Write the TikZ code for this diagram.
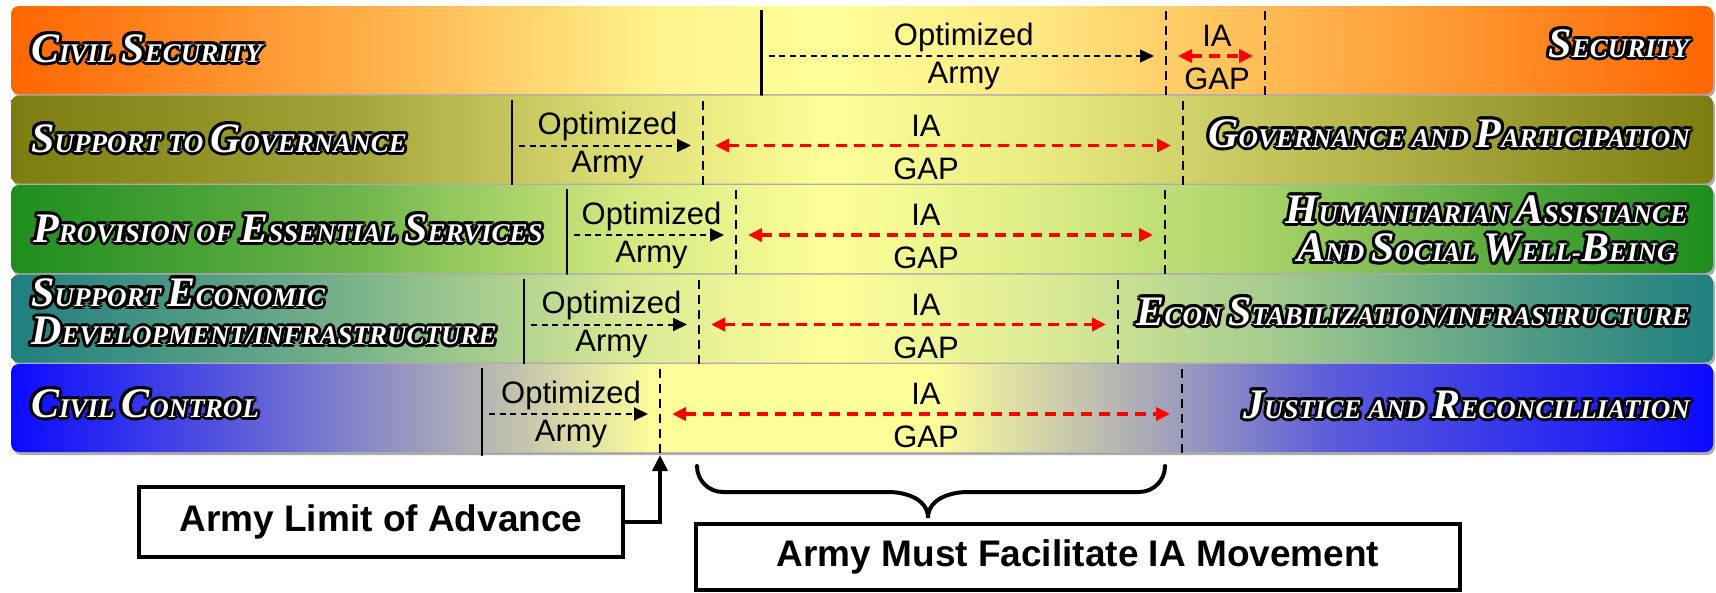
\documentclass[tikz,border=0pt]{standalone}
\usepackage{fontspec}
\setmainfont{Liberation Sans}
\setsansfont{Liberation Sans}
\newfontfamily\bandfont{Liberation Serif}
\usetikzlibrary{arrows.meta, calc}

\definecolor{bYel}{HTML}{FFFF99}
\definecolor{bOr}{HTML}{FF6600}
\definecolor{bOl}{HTML}{7C7C10}
\definecolor{bGr}{HTML}{1E8C1E}
\definecolor{bTe}{HTML}{1F7F80}
\definecolor{bBl}{HTML}{0A0AFF}
\definecolor{bGy}{HTML}{A8A8B8}

\pgfdeclarehorizontalshading{civsec}{100bp}{color(0bp)=(bOr); color(25bp)=(bOr); color(35bp)=(bOr!55!bYel); color(44bp)=(bOr!8!bYel); color(49bp)=(bYel); color(55bp)=(bOr!15!bYel); color(62bp)=(bOr!45!bYel); color(75bp)=(bOr); color(100bp)=(bOr)}
\pgfdeclarehorizontalshading{govern}{100bp}{color(0bp)=(bOl); color(25bp)=(bOl); color(35bp)=(bOl!70!bYel); color(43bp)=(bOl!25!bYel); color(49bp)=(bYel); color(55bp)=(bOl!15!bYel); color(62bp)=(bOl!45!bYel); color(70bp)=(bOl!80!bYel); color(75bp)=(bOl); color(100bp)=(bOl)}
\pgfdeclarehorizontalshading{essent}{100bp}{color(0bp)=(bGr); color(25bp)=(bGr); color(35bp)=(bGr!65!bYel); color(43bp)=(bGr!20!bYel); color(49bp)=(bYel); color(55bp)=(bGr!15!bYel); color(62bp)=(bGr!40!bYel); color(70bp)=(bGr!80!bYel); color(75bp)=(bGr); color(100bp)=(bGr)}
\pgfdeclarehorizontalshading{econ}{100bp}{color(0bp)=(bTe); color(25bp)=(bTe); color(35bp)=(bTe!60!bYel); color(43bp)=(bTe!18!bYel); color(49bp)=(bYel); color(55bp)=(bTe!15!bYel); color(62bp)=(bTe!40!bYel); color(70bp)=(bTe!80!bYel); color(75bp)=(bTe); color(100bp)=(bTe)}
\pgfdeclarehorizontalshading{civcon}{100bp}{color(0bp)=(bBl); color(25bp)=(bBl); color(31bp)=(bBl!55!bGy); color(38bp)=(bGy); color(44bp)=(bYel); color(52bp)=(bYel); color(58.5bp)=(bGy); color(64bp)=(bBl!50!bGy); color(75bp)=(bBl); color(100bp)=(bBl)}

\newcommand{\Kc}[1]{{\fontsize{42pt}{38.5pt}\selectfont #1}}
\newcommand{\bandlabel}[4]{%
	\foreach \a in {0,30,...,330}
		\node[bandlbl, text=black, #3] (#1-\a) at ($(#2)+(\a:3)$) {#4};
	\node[bandlbl, text=white, #3] (#1) at (#2) {#4};
}

\tikzset{
	bandlbl/.style={font=\bandfont\bfseries\itshape\fontsize{27pt}{38.5pt}\selectfont, inner sep=0pt},
	midtxt/.style={font=\fontsize{31pt}{31pt}\selectfont, inner sep=0pt},
	armyline/.style={line width=2.5pt},
	gapline/.style={line width=2.5pt, dash pattern=on 9pt off 6pt},
	armyarrow/.style={line width=2pt, dash pattern=on 6pt off 4.5pt, -{Triangle[length=14pt,width=13pt]}},
	gaparrow/.style={red, line width=3.5pt, dash pattern=on 11pt off 7pt, {Triangle[length=14pt,width=13pt]}-{Triangle[length=14pt,width=13pt]}},
	notebox/.style={draw, fill=white, line width=3.5pt, inner sep=0pt, font=\bfseries\fontsize{37pt}{37pt}\selectfont},
	advarrow/.style={line width=4pt, -{Triangle[length=16pt,width=15pt]}},
	bracestyle/.style={line width=4pt, line cap=round}
}

\begin{document}
\begin{tikzpicture}[x=1pt, y=-1pt, font=\sffamily]
	\useasboundingbox (0,0) rectangle (1716,592);

	\foreach \n/\sh/\sol/\dl/\dr/\ia in {0/civsec/761.5/1166/1265/1217, 1/govern/512/703/1183/926, 2/essent/567/736/1165/926, 3/econ/524/699/1118/926, 4/civcon/482/660/1182/926}{
		\pgfmathsetmacro\t{6+89.5*\n}
		\pgfmathsetmacro\b{\t+88}
		\pgfmathsetmacro\mx{(\sol+\dl)/2}
		\fill[gray!65, rounded corners=8pt]	(13,\t+3) rectangle (1715,\b+3);
		\shade[shading=\sh, rounded corners=8pt]	(11,\t) rectangle (1713,\b);

		\coordinate (sol\n-t) at (\sol,\t+4);
		\coordinate (sol\n-b) at (\sol,\t+92);
		\coordinate (dl\n-t) at (\dl,\t+5);
		\coordinate (dl\n-b) at (\dl,\t+91);
		\coordinate (dr\n-t) at (\dr,\t+5);
		\coordinate (dr\n-b) at (\dr,\t+91);
		\coordinate (aw\n) at (\sol+7,\t+50);
		\coordinate (ae\n) at (\dl-12,\t+50);
		\coordinate (rw\n) at (\dl+12,\t+50);
		\coordinate (re\n) at (\dr-12,\t+50);

		\draw[armyline]	(sol\n-t) -- (sol\n-b);
		\draw[gapline]	(dl\n-t) -- (dl\n-b);
		\draw[gapline]	(dr\n-t) -- (dr\n-b);
		\draw[armyarrow]	(aw\n) -- (ae\n);
		\draw[gaparrow]	(rw\n) -- (re\n);

		\node[midtxt] (opt\n) at (\mx,\t+31) {Optimized};
		\node[midtxt] (army\n) at (\mx,\t+70) {Army};
		\node[midtxt] (ia\n) at (\ia,\t+30) {IA};
		\node[midtxt] (gap\n) at (\ia,\t+73) {GAP};
	}

	\bandlabel{civsec}{31,62}{anchor=base west}{\Kc{C}IVIL \Kc{S}ECURITY}
	\bandlabel{secur}{1689,57}{anchor=base east}{\Kc{S}ECURITY}
	\bandlabel{supgov}{31,152}{anchor=base west}{\Kc{S}UPPORT TO \Kc{G}OVERNANCE}
	\bandlabel{govpar}{1690,147}{anchor=base east}{\Kc{G}OVERNANCE AND \Kc{P}ARTICIPATION}
	\bandlabel{provis}{33,242}{anchor=base west}{\Kc{P}ROVISION OF \Kc{E}SSENTIAL \Kc{S}ERVICES}
	\bandlabel{human}{1487,229}{anchor=center, align=center}{\Kc{H}UMANITARIAN \Kc{A}SSISTANCE\\\Kc{A}ND \Kc{S}OCIAL \Kc{W}ELL-\Kc{B}EING}
	\bandlabel{supeco}{31,312}{anchor=west, align=left}{\Kc{S}UPPORT \Kc{E}CONOMIC\\\Kc{D}EVELOPMENT/INFRASTRUCTURE}
	\bandlabel{econst}{1690,325}{anchor=base east}{\Kc{E}CON \Kc{S}TABILIZATION/INFRASTRUCTURE}
	\bandlabel{civcon}{31,417}{anchor=base west}{\Kc{C}IVIL \Kc{C}ONTROL}
	\bandlabel{justic}{1690,418}{anchor=base east}{\Kc{J}USTICE AND \Kc{R}ECONCILLIATION}

	\node[notebox, minimum width=484pt, minimum height=70pt] (limit) at (381,522) {Army Limit of Advance};
	\node[notebox, minimum width=764pt, minimum height=66pt] (facil) at (1078,557) {Army Must Facilitate IA Movement};
	\draw[advarrow]	(limit.east) -| (dl4-b);

	\coordinate (brL) at (697,466);
	\coordinate (brR) at (1165,466);
	\coordinate (brT) at (928,518);
	\draw[bracestyle]	(brL) to[out=-90,in=180] ($(brL)+(26,26)$) -- ($(brT)+(-40,-26)$) to[out=0,in=90] (brT)
		to[out=90,in=180] ($(brT)+(40,-26)$) -- ($(brR)+(-26,26)$) to[out=0,in=-90] (brR);
\end{tikzpicture}
\end{document}
